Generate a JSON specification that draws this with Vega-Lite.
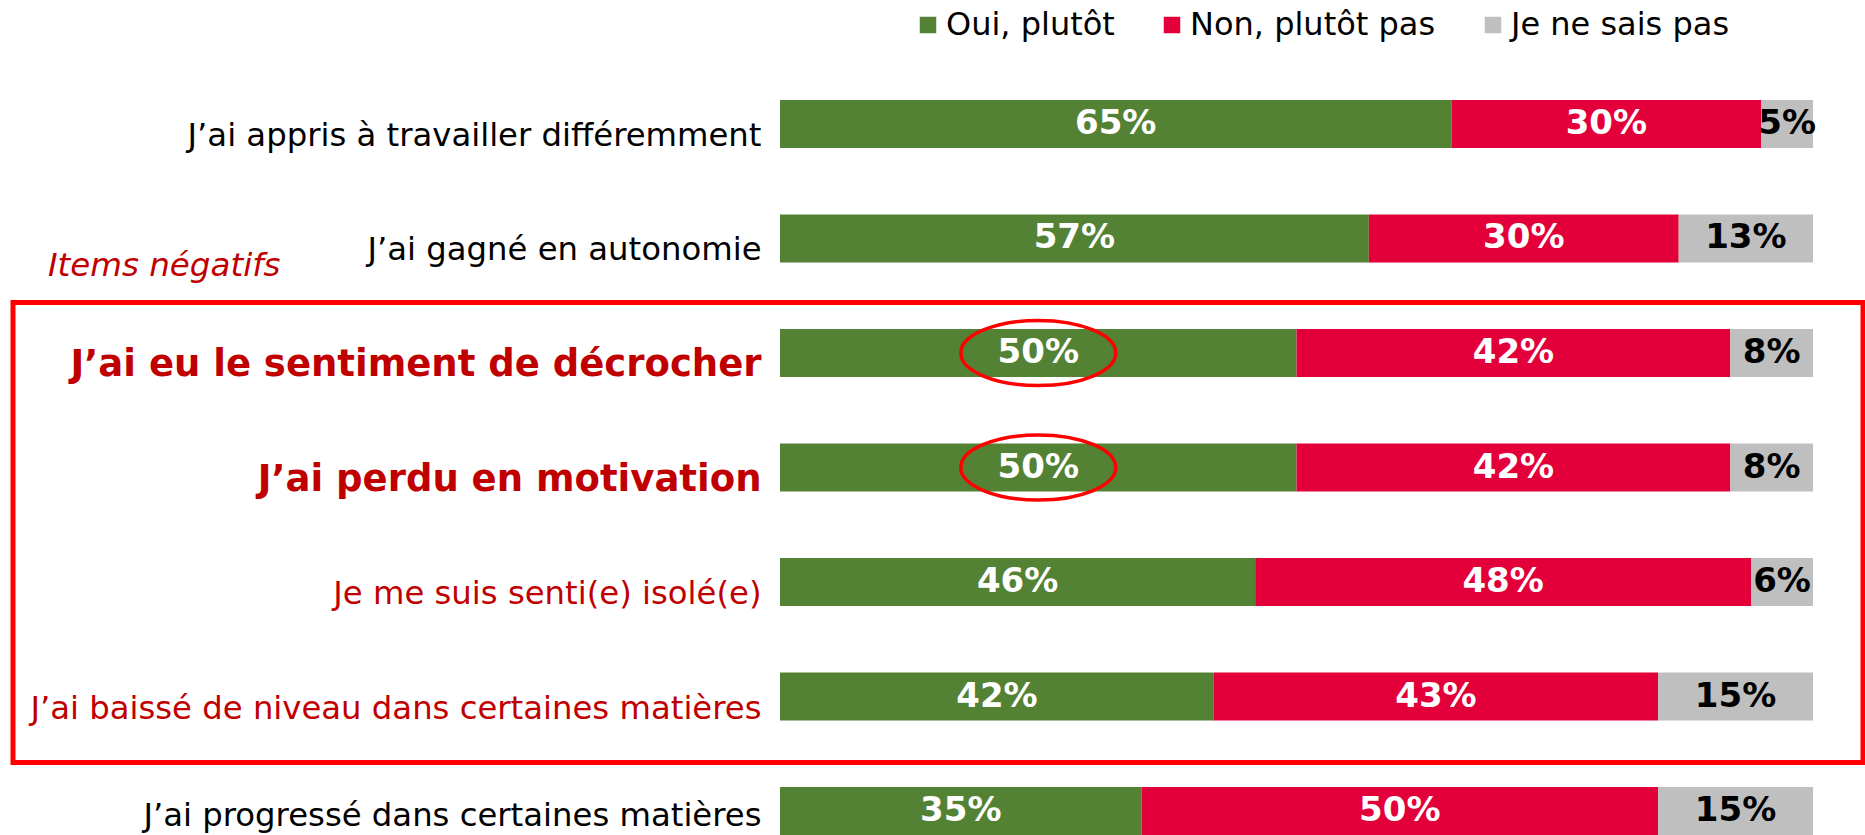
{
  "$schema": "https://vega.github.io/schema/vega-lite/v6.json",
  "width": 1033,
  "height": 735,
  "autosize": {"type": "none"},
  "padding": {"left": 780, "top": 100, "right": 52, "bottom": 0},
  "background": "white",
  "config": {"view": {"stroke": null}, "font": "DejaVu Sans"},
  "datasets": {
    "bars": [
      {"item": "J’ai appris à travailler différemment", "cat": "Oui, plutôt", "k": 0, "value": 65},
      {"item": "J’ai appris à travailler différemment", "cat": "Non, plutôt pas", "k": 1, "value": 30},
      {"item": "J’ai appris à travailler différemment", "cat": "Je ne sais pas", "k": 2, "value": 5},
      {"item": "J’ai gagné en autonomie", "cat": "Oui, plutôt", "k": 0, "value": 57},
      {"item": "J’ai gagné en autonomie", "cat": "Non, plutôt pas", "k": 1, "value": 30},
      {"item": "J’ai gagné en autonomie", "cat": "Je ne sais pas", "k": 2, "value": 13},
      {"item": "J’ai eu le sentiment de décrocher", "cat": "Oui, plutôt", "k": 0, "value": 50},
      {"item": "J’ai eu le sentiment de décrocher", "cat": "Non, plutôt pas", "k": 1, "value": 42},
      {"item": "J’ai eu le sentiment de décrocher", "cat": "Je ne sais pas", "k": 2, "value": 8},
      {"item": "J’ai perdu en motivation", "cat": "Oui, plutôt", "k": 0, "value": 50},
      {"item": "J’ai perdu en motivation", "cat": "Non, plutôt pas", "k": 1, "value": 42},
      {"item": "J’ai perdu en motivation", "cat": "Je ne sais pas", "k": 2, "value": 8},
      {"item": "Je me suis senti(e) isolé(e)", "cat": "Oui, plutôt", "k": 0, "value": 46},
      {"item": "Je me suis senti(e) isolé(e)", "cat": "Non, plutôt pas", "k": 1, "value": 48},
      {"item": "Je me suis senti(e) isolé(e)", "cat": "Je ne sais pas", "k": 2, "value": 6},
      {"item": "J’ai baissé de niveau dans certaines matières", "cat": "Oui, plutôt", "k": 0, "value": 42},
      {"item": "J’ai baissé de niveau dans certaines matières", "cat": "Non, plutôt pas", "k": 1, "value": 43},
      {"item": "J’ai baissé de niveau dans certaines matières", "cat": "Je ne sais pas", "k": 2, "value": 15},
      {"item": "J’ai progressé dans certaines matières", "cat": "Oui, plutôt", "k": 0, "value": 35},
      {"item": "J’ai progressé dans certaines matières", "cat": "Non, plutôt pas", "k": 1, "value": 50},
      {"item": "J’ai progressé dans certaines matières", "cat": "Je ne sais pas", "k": 2, "value": 15}
    ]
  },
  "layer": [
    {
      "data": {"name": "bars"},
      "transform": [
        {"stack": "value", "groupby": ["item"], "sort": [{"field": "k", "order": "ascending"}], "as": ["v0", "v1"]},
        {"calculate": "(datum.v0 + datum.v1) / 2", "as": "mid"},
        {"calculate": "datum.value + '%'", "as": "label"}
      ],
      "encoding": {
        "y": {
          "field": "item",
          "type": "nominal",
          "sort": null,
          "scale": {"paddingInner": 0.5808, "paddingOuter": 0},
          "axis": {
            "title": null,
            "domain": false,
            "ticks": false,
            "labelPadding": 19,
            "labelOffset": {"condition": {"test": "datum.value == 'J’ai progressé dans certaines matières'", "value": 5}, "value": 12},
            "labelLimit": 0,
            "labelFont": "DejaVu Sans",
            "labelFontSize": {"condition": {"test": "indexof(['J’ai eu le sentiment de décrocher','J’ai perdu en motivation'], datum.value) >= 0", "value": 37}, "value": 32.3},
            "labelFontWeight": {"condition": {"test": "indexof(['J’ai eu le sentiment de décrocher','J’ai perdu en motivation'], datum.value) >= 0", "value": "bold"}, "value": "normal"},
            "labelColor": {"condition": {"test": "indexof(['J’ai eu le sentiment de décrocher','J’ai perdu en motivation','Je me suis senti(e) isolé(e)','J’ai baissé de niveau dans certaines matières'], datum.value) >= 0", "value": "#C00000"}, "value": "#000000"}
          }
        }
      },
      "layer": [
        {
          "mark": {"type": "bar"},
          "encoding": {
            "x": {"field": "v0", "type": "quantitative", "scale": {"domain": [0, 100], "nice": false}, "axis": null},
            "x2": {"field": "v1"},
            "color": {
              "field": "cat",
              "type": "nominal",
              "scale": {"domain": ["Oui, plutôt", "Non, plutôt pas", "Je ne sais pas"], "range": ["#548235", "#E3003A", "#BFBFBF"]},
              "legend": {
                "orient": "none",
                "legendX": 132,
                "legendY": -91,
                "direction": "horizontal",
                "title": null,
                "padding": 0,
                "symbolType": "square",
                "symbolSize": 272,
                "symbolStrokeWidth": 0,
                "labelFont": "DejaVu Sans",
                "labelFontSize": 32,
                "labelColor": "#000000",
                "labelOffset": 2,
                "labelLimit": 0,
                "columnPadding": 41
              }
            }
          }
        },
        {
          "mark": {"type": "text", "font": "DejaVu Sans", "fontWeight": "bold", "fontSize": 34, "align": "center", "baseline": "middle"},
          "encoding": {
            "x": {"field": "mid", "type": "quantitative"},
            "text": {"field": "label", "type": "nominal"},
            "color": {"condition": {"test": "datum.cat == 'Je ne sais pas'", "value": "#000000"}, "value": "#FFFFFF"}
          }
        },
        {
          "transform": [
            {"filter": "datum.k == 0 && (datum.item == 'J’ai eu le sentiment de décrocher' || datum.item == 'J’ai perdu en motivation')"}
          ],
          "mark": {"type": "point", "shape": "M-1,0A1,0.42 0 1,1 1,0A1,0.42 0 1,1 -1,0Z", "size": 24025, "filled": false, "stroke": "#FF0000", "strokeWidth": 3.5, "opacity": 1},
          "encoding": {
            "x": {"field": "mid", "type": "quantitative"}
          }
        }
      ]
    },
    {
      "layer": [
        {
          "data": {"values": [{"x0": -74.25, "x1": 104.84, "y0": 1.769, "y1": 5.786}]},
          "mark": {"type": "rect", "fill": null, "filled": false, "stroke": "#FF0000", "strokeWidth": 5},
          "encoding": {
            "x": {"field": "x0", "type": "quantitative", "scale": {"domain": [0, 100], "nice": false, "zero": false}, "axis": null},
            "x2": {"field": "x1"},
            "y": {"field": "y0", "type": "quantitative", "scale": {"domain": [0, 6.4192], "reverse": true, "nice": false, "zero": false}, "axis": null},
            "y2": {"field": "y1"}
          }
        },
        {
          "data": {"values": [{"x": -70.86, "y": 1.537, "note": "Items négatifs"}]},
          "mark": {"type": "text", "font": "DejaVu Sans", "fontStyle": "italic", "fontSize": 32.5, "color": "#C00000", "align": "left", "baseline": "alphabetic"},
          "encoding": {
            "x": {"field": "x", "type": "quantitative", "scale": {"domain": [0, 100], "nice": false, "zero": false}, "axis": null},
            "y": {"field": "y", "type": "quantitative", "scale": {"domain": [0, 6.4192], "reverse": true, "nice": false, "zero": false}, "axis": null},
            "text": {"field": "note", "type": "nominal"}
          }
        }
      ]
    }
  ],
  "resolve": {"scale": {"y": "independent", "x": "independent"}}
}
